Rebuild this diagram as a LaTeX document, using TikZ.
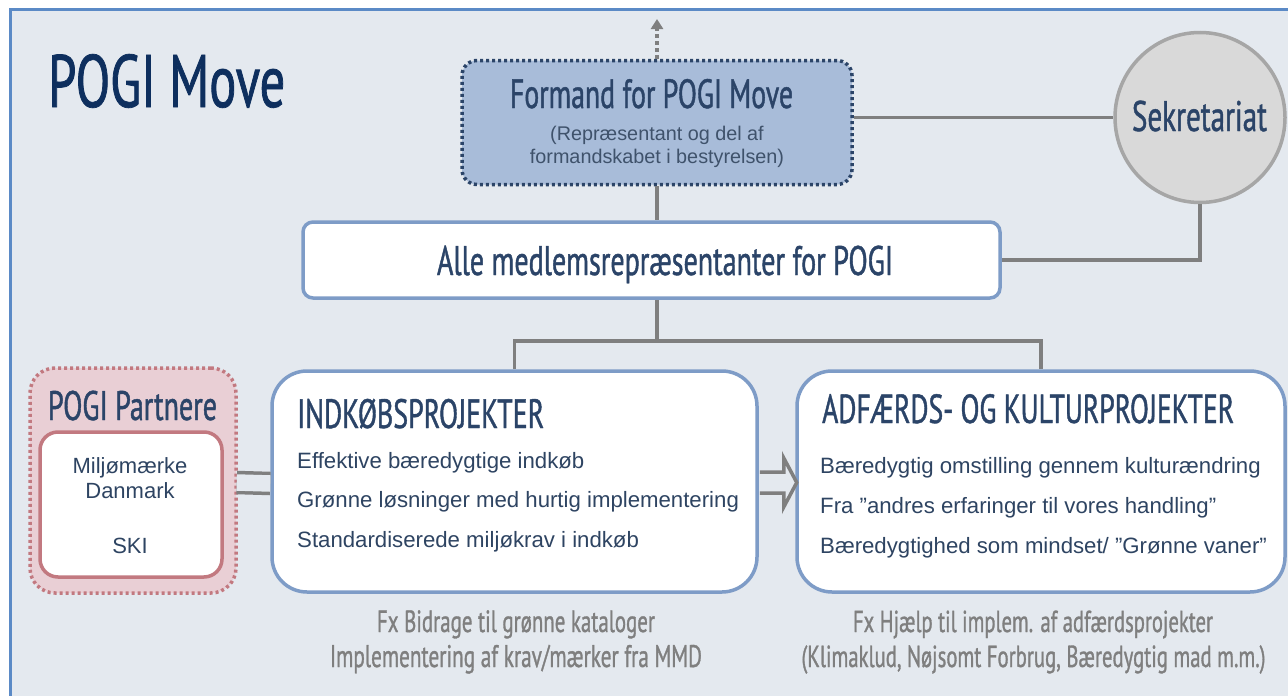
\documentclass[tikz,border=0pt]{standalone}
\usepackage{fontspec}
\setmainfont{Liberation Sans}
\newfontfamily\osw[FakeStretch=0.68,FakeBold=1]{PT Sans}
\usetikzlibrary{arrows.meta,calc}
\definecolor{bg}{HTML}{E4E9EF}
\definecolor{frameblue}{HTML}{5B8AC6}
\definecolor{navy}{HTML}{0E2F5E}
\definecolor{navytwo}{HTML}{2B4468}
\definecolor{itemc}{HTML}{2E4462}
\definecolor{boxb}{HTML}{7E9CC7}
\definecolor{formfill}{HTML}{A8BCD9}
\definecolor{lgray}{HTML}{7F7F7F}
\definecolor{circfill}{HTML}{D9D9D9}
\definecolor{circb}{HTML}{A6A6A6}
\definecolor{pfill}{HTML}{E9CFD5}
\definecolor{pborder}{HTML}{C27980}
\definecolor{subc}{HTML}{3F526B}
\newcommand\hdg[2]{\resizebox{#1}{!}{\osw\fontsize{40}{40}\selectfont #2}}
\tikzset{
  conn/.style={draw=lgray, line width=3.5pt},
  pbox/.style={draw=boxb, fill=white, line width=3.5pt, inner sep=0pt},
  item/.style={anchor=base west, inner sep=0pt, text=itemc, font=\fontsize{22.2}{24}\selectfont},
  head/.style={inner sep=0pt, text=navytwo},
  note/.style={anchor=base, inner sep=0pt, text=lgray},
  dotbord/.style={line width=3.5pt, dash pattern=on 3pt off 3pt},
}
\begin{document}
\begin{tikzpicture}[x=1pt,y=-1pt]
\useasboundingbox (0,0) rectangle (1288,696);
\fill[white] (0,0) rectangle (1288,696);
\fill[bg] (10,9) rectangle (1295,705);
\draw[frameblue, line width=3pt] (10,705) -- (10,9) -- (1295,9);

% title
\node[anchor=base west, inner sep=0pt, text=navy] (title) at (48,107) {\hdg{237pt}{POGI Move}};

% Formand
\node[draw=navytwo, fill=formfill, dotbord,
      rounded corners=15pt, minimum width=390pt, minimum height=124pt, inner sep=0pt] (formand) at (657,122.5) {};
\node[head, anchor=base] (formandT) at (651.5,108) {\hdg{283pt}{Formand for POGI Move}};
\node[anchor=base, inner sep=0pt, text=subc, font=\fontsize{19.8}{21}\selectfont] (formandS1) at (657,140) {(Repræsentant og del af};
\node[anchor=base, inner sep=0pt, text=subc, font=\fontsize{19.8}{21}\selectfont] (formandS2) at (657,163) {formandskabet i bestyrelsen)};
\coordinate (up) at (657,19);
\draw[lgray, line width=3.5pt, dash pattern=on 4pt off 3pt, -{Triangle[width=12pt,length=10pt]}] (formand.north) -- (up);

% Sekretariat
\node[circle, fill=circfill, draw=circb, line width=3.5pt, minimum size=170pt, inner sep=0pt] (sek) at (1200,117.5) {};
\node[head, anchor=base] (sekT) at (1199.5,131) {\hdg{135pt}{Sekretariat}};

% Alle
\node[pbox, rounded corners=10pt, minimum width=697pt, minimum height=76pt] (alle) at (651.5,260) {};
\node[head, anchor=base] (alleT) at (665,275) {\hdg{456pt}{Alle medlemsrepræsentanter for POGI}};

% project boxes
\node[pbox, rounded corners=35pt, minimum width=485pt, minimum height=221pt] (ind) at (514.5,481.5) {};
\node[pbox, rounded corners=35pt, minimum width=488pt, minimum height=221pt] (adf) at (1041,481.5) {};
\node[head, anchor=base west] (indT) at (297,428) {\hdg{247pt}{INDKØBSPROJEKTER}};
\node[head, anchor=base west] (adfT) at (822,423) {\hdg{412pt}{ADFÆRDS- OG KULTURPROJEKTER}};
\node[item] (i1) at (297,468) {Effektive bæredygtige indkøb};
\node[item] (i2) at (297,507) {Grønne løsninger med hurtig implementering};
\node[item] (i3) at (297,547) {Standardiserede miljøkrav i indkøb};
\node[item] (a1) at (820,473) {Bæredygtig omstilling gennem kulturændring};
\node[item] (a2) at (820,513) {Fra ”andres erfaringer til vores handling”};
\node[item] (a3) at (820,553) {Bæredygtighed som mindset/ ”Grønne vaner”};

% Partnere
\node[draw=pborder, fill=pfill, dotbord,
      rounded corners=25pt, minimum width=206pt, minimum height=225pt, inner sep=0pt] (part) at (133,480.5) {};
\node[head, anchor=base] (partT) at (132.5,420) {\hdg{169pt}{POGI Partnere}};
\node[draw=pborder, fill=white, line width=3.5pt, rounded corners=18pt,
      minimum width=182pt, minimum height=145pt, inner sep=0pt] (partin) at (131,504.5) {};
\node[anchor=base, inner sep=0pt, text=itemc, font=\fontsize{22}{24}\selectfont] (p1) at (130,473) {Miljømærke};
\node[anchor=base, inner sep=0pt, text=itemc, font=\fontsize{22}{24}\selectfont] (p2) at (130,498) {Danmark};
\node[anchor=base, inner sep=0pt, text=itemc, font=\fontsize{22}{24}\selectfont] (p3) at (130,553) {SKI};

% notes
\node[note] (n1) at (516,632) {\hdg{278pt}{Fx Bidrage til grønne kataloger}};
\node[note] (n2) at (516,667) {\hdg{372pt}{Implementering af krav/mærker fra MMD}};
\node[note] (n3) at (1033,632) {\hdg{360pt}{Fx Hjælp til implem. af adfærdsprojekter}};
\node[note] (n4) at (1033.5,667) {\hdg{464pt}{(Klimaklud, Nøjsomt Forbrug, Bæredygtig mad m.m.)}};

% connectors
\draw[conn] (formand.south) -- (formand.south |- alle.north);
\draw[conn] (sek.west -| formand.east) -- (sek.west);
\draw[conn] (sek.south) |- (alle.east);
\coordinate (j) at (657,341);
\draw[conn] (j) -- (j |- alle.south);
\draw[conn] (ind.north) |- (j) -| (adf.north);
\draw[conn, double=bg, double distance=16.5pt] ($(part.east)+(-1,2)$) -- ($(ind.west)+(0,2)$);
\draw[lgray, fill=bg, line width=3.5pt, line join=miter]
  ($(ind.east)+(1,-9.5)$) -- ($(ind.east)+(25,-9.5)$) -- ($(ind.east)+(25,-23.5)$) --
  ($(ind.east)+(38,1)$) -- ($(ind.east)+(25,25.5)$) -- ($(ind.east)+(25,11.5)$) -- ($(ind.east)+(1,11.5)$);
\end{tikzpicture}
\end{document}
